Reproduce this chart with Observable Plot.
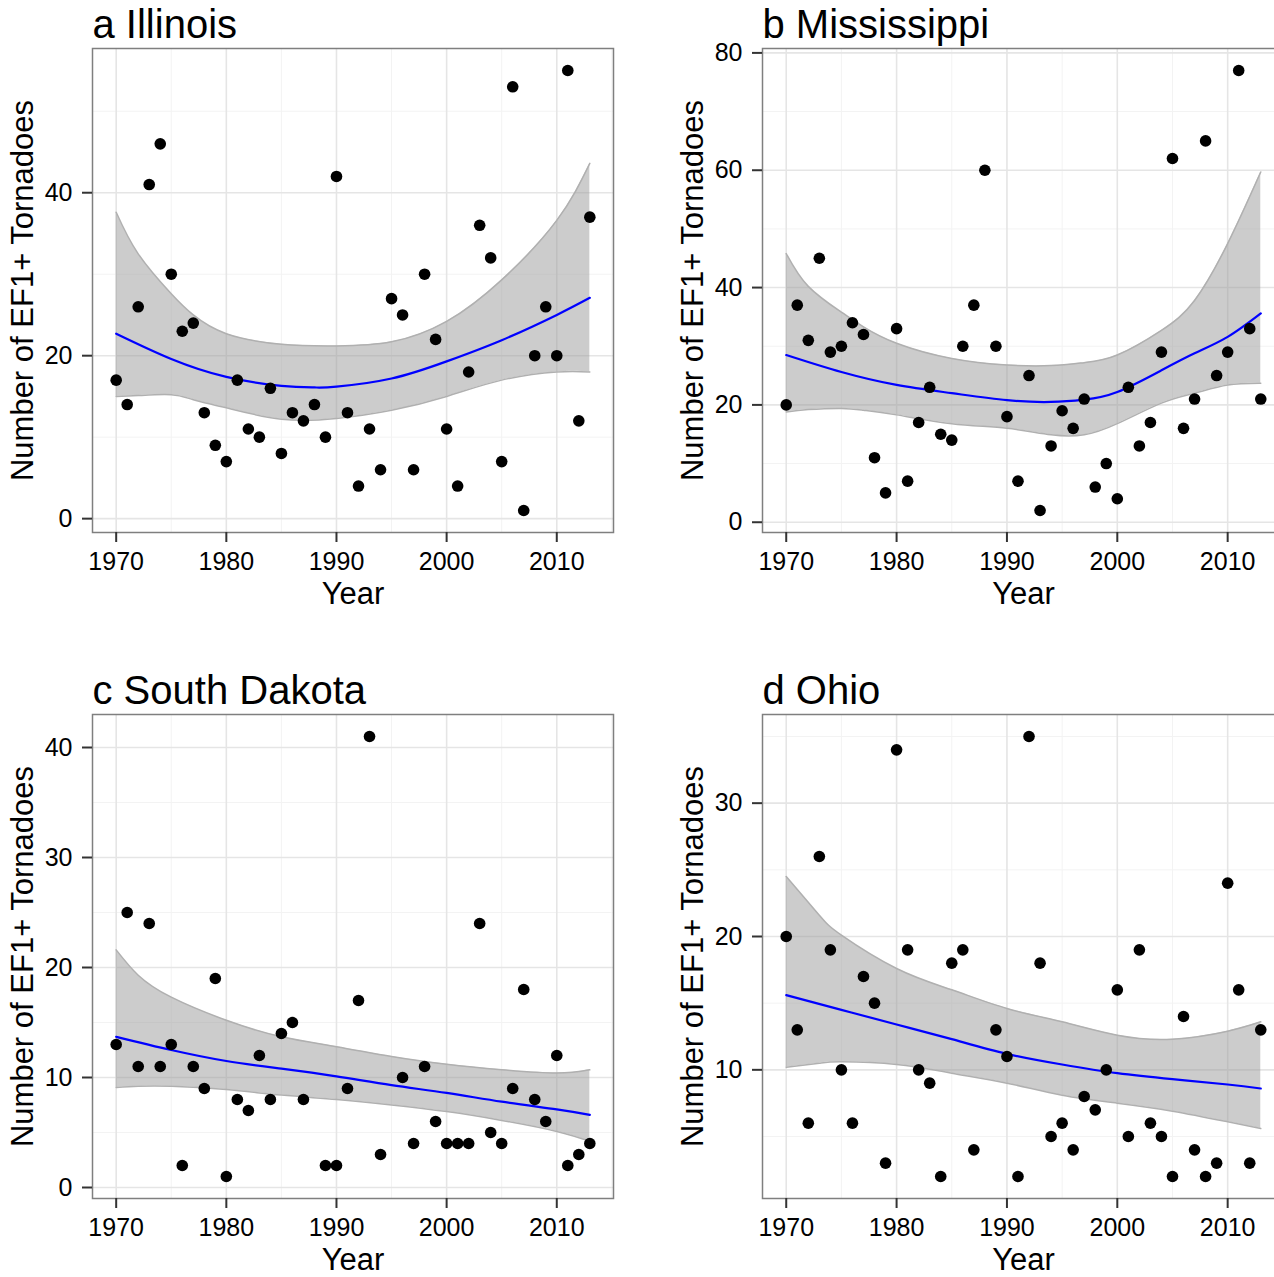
<!DOCTYPE html>
<html>
<head>
<meta charset="utf-8">
<script src="https://cdn.jsdelivr.net/npm/d3@7"></script>
<script src="https://cdn.jsdelivr.net/npm/@observablehq/plot@0.6"></script>
<style>
  html, body { margin: 0; padding: 0; background: #fff; overflow: hidden; }
  #root { position: relative; width: 1274px; height: 1277px; overflow: hidden; background: #fff;
          font-family: "Liberation Sans", Arial, Helvetica, sans-serif; }
  .panel { position: absolute; }
  .panel svg { max-width: none !important; display: block; }
</style>
</head>
<body>
<div id="root"></div>
<script>
// ---------- data ----------
const years = [1970,1971,1972,1973,1974,1975,1976,1977,1978,1979,1980,1981,1982,1983,1984,1985,1986,1987,1988,1989,
               1990,1991,1992,1993,1994,1995,1996,1997,1998,1999,2000,2001,2002,2003,2004,2005,2006,2007,2008,2009,
               2010,2011,2012,2013];

const illinois    = [17,14,26,41,46,30,23,24,13,9,7,17,11,10,16,8,13,12,14,10,
                     42,13,4,11,6,27,25,6,30,22,11,4,18,36,32,7,53,1,20,26,
                     20,55,12,37];
const mississippi = [20,37,31,45,29,30,34,32,11,5,33,7,17,23,15,14,30,37,60,30,
                     18,7,25,2,13,19,16,21,6,10,4,23,13,17,29,62,16,21,65,25,
                     29,77,33,21];
const southDakota = [13,25,11,24,11,13,2,11,9,19,1,8,7,12,8,14,15,8,null,2,
                     2,9,17,41,3,null,10,4,11,6,4,4,4,24,5,4,9,18,8,6,
                     12,2,3,4];
const ohio        = [20,13,6,26,19,10,6,17,15,3,34,19,10,9,2,18,19,4,null,13,
                     11,2,35,18,5,6,4,8,7,10,16,5,19,6,5,2,14,4,2,3,
                     24,16,3,13];

// smoothed fit and confidence band
const ilFitYears = [1970,1975,1980,1985,1988,1990,1995,2000,2005,2010,2013];
const ilFit      = [22.7,19.6,17.4,16.3,16.1,16.2,17.2,19.3,21.9,25.0,27.1];
const ilBandYears= [1970,1972,1975,1977,1980,1985,1990,1995,2000,2005,2010,2013];
const ilHi       = [37.6,32.5,27.6,25.0,22.7,21.4,21.2,21.7,24.2,29.3,36.6,43.6];
const ilLo       = [15.0,15.1,15.2,14.6,13.6,12.2,12.3,13.3,15.0,17.0,18.0,18.0];

const msFitYears = [1970,1975,1980,1985,1990,1994,1997,2000,2004,2007,2010,2013];
const msFit      = [28.5,25.6,23.4,22.0,20.8,20.5,20.9,22.2,25.9,28.8,31.6,35.6];
const msBandYears= [1970,1972,1975,1977,1980,1985,1990,1994,1997,2000,2004,2007,2010,2013];
const msHi       = [45.8,40.2,35.8,33.3,30.5,27.9,26.8,26.7,27.2,28.5,32.7,37.8,47.5,59.7];
const msLo       = [18.8,19.2,19.4,19.1,18.3,16.8,16.0,14.9,14.9,16.8,20.3,22.0,23.4,23.7];

const sdFitYears = [1970,1975,1980,1985,1990,1995,2000,2005,2010,2013];
const sdFit      = [13.7,12.5,11.5,10.8,10.1,9.3,8.6,7.8,7.1,6.6];
const sdBandYears= [1970,1972,1975,1980,1985,1990,1995,2000,2005,2010,2013];
const sdHi       = [21.6,19.3,17.3,15.2,13.7,12.8,11.9,11.2,10.7,10.4,10.7];
const sdLo       = [9.1,9.2,9.2,8.9,8.4,8.0,7.5,6.9,6.1,5.1,4.2];

const ohFitYears = [1970,1975,1980,1985,1990,1995,2000,2005,2010,2013];
const ohFit      = [15.6,14.5,13.4,12.3,11.2,10.4,9.75,9.3,8.9,8.6];
const ohBandYears= [1970,1973,1975,1980,1985,1990,1995,2000,2005,2010,2013];
const ohHi       = [24.5,21.6,20.1,17.6,16.0,14.6,13.6,12.6,12.3,12.9,13.6];
const ohLo       = [10.2,10.5,10.6,10.4,9.75,9.0,8.1,7.5,6.9,6.1,5.6];

const xTicks = [1970,1980,1990,2000,2010];
const xMinor = [1975,1985,1995,2005,2015];

const panels = [
  {title: "a Illinois", values: illinois, fitYears: ilFitYears, fit: ilFit, bandYears: ilBandYears, hi: ilHi, lo: ilLo,
   yTicks: [0,20,40], yMinor: [10,30,50], yDomain: [-1.7, 57.7], left: 0, top: 0, w: 521},
  {title: "b Mississippi", values: mississippi, fitYears: msFitYears, fit: msFit, bandYears: msBandYears, hi: msHi, lo: msLo,
   yTicks: [0,20,40,60,80], yMinor: [10,30,50,70], yDomain: [-1.75, 80.75], left: 670, top: 0, w: 522},
  {title: "c South Dakota", values: southDakota, fitYears: sdFitYears, fit: sdFit, bandYears: sdBandYears, hi: sdHi, lo: sdLo,
   yTicks: [0,10,20,30,40], yMinor: [5,15,25,35], yDomain: [-1.0, 43.0], left: 0, top: 666, w: 521},
  {title: "d Ohio", values: ohio, fitYears: ohFitYears, fit: ohFit, bandYears: ohBandYears, hi: ohHi, lo: ohLo,
   yTicks: [10,20,30], yMinor: [5,15,25,35], yDomain: [0.35, 36.65], left: 670, top: 666, w: 522}
];

// ---------- drawing ----------
const root = document.getElementById("root");
const FONT = "Liberation Sans, Arial, Helvetica, sans-serif";

for (const p of panels) {
  const pts = years.map((y, i) => ({year: y, n: p.values[i]})).filter(d => d.n != null);
  const fit = p.fitYears.map((y, i) => ({year: y, v: p.fit[i]}));
  const band = p.bandYears.map((y, i) => ({year: y, hi: p.hi[i], lo: p.lo[i]}));
  const mL = 92, mT = 48, mR = 12, mB = 84, h = 484;
  const W = mL + p.w + mR, H = mT + h + mB;

  const chart = Plot.plot({
    width: W,
    height: H,
    marginLeft: mL, marginTop: mT, marginRight: mR, marginBottom: mB,
    style: {fontFamily: FONT, background: "white", overflow: "visible", color: "black", maxWidth: "none"},
    x: {domain: [1967.85, 2015.15]},
    y: {domain: p.yDomain},
    marks: [
      Plot.ruleX(xMinor, {x: d => d, stroke: "#f3f3f3", strokeWidth: 1}),
      Plot.ruleY(p.yMinor, {y: d => d, stroke: "#f3f3f3", strokeWidth: 1}),
      Plot.ruleX(xTicks, {x: d => d, stroke: "#e5e5e5", strokeWidth: 1.6}),
      Plot.ruleY(p.yTicks, {y: d => d, stroke: "#e5e5e5", strokeWidth: 1.6}),
      Plot.areaY(band, {x: "year", y1: "lo", y2: "hi", fill: "#999999", fillOpacity: 0.5, curve: "natural"}),
      Plot.lineY(band, {x: "year", y: "hi", stroke: "#b0b0b0", strokeWidth: 1.5, curve: "natural"}),
      Plot.lineY(band, {x: "year", y: "lo", stroke: "#b0b0b0", strokeWidth: 1.5, curve: "natural"}),
      Plot.lineY(fit, {x: "year", y: "v", stroke: "#0000ff", strokeWidth: 2.2, curve: "natural"}),
      Plot.dot(pts, {x: "year", y: "n", r: 5.8, fill: "black", stroke: "none"}),
      Plot.frame({stroke: "#7f7f7f", strokeWidth: 1.5}),
      Plot.axisX(xTicks, {tickSize: 10, tickPadding: 10, fontSize: 25, fill: "black", stroke: "#333",
                          strokeWidth: 2, tickFormat: d => String(d), label: null}),
      Plot.axisY(p.yTicks, {tickSize: 10, tickPadding: 10, fontSize: 25, fill: "black", stroke: "#333",
                          strokeWidth: 2, tickFormat: d => String(d), label: null}),
      Plot.text([p.title], {text: d => d, frameAnchor: "top-left", textAnchor: "start", lineAnchor: "middle",
                            dy: -23, fontSize: 40, fill: "black"}),
      Plot.text(["Year"], {text: d => d, frameAnchor: "bottom", textAnchor: "middle", lineAnchor: "middle",
                           dy: 61.5, fontSize: 31, fill: "black"}),
      Plot.text(["Number of EF1+ Tornadoes"], {text: d => d, frameAnchor: "left", textAnchor: "middle",
                            lineAnchor: "middle", rotate: -90, dx: -69, fontSize: 31, fill: "black"})
    ]
  });
  chart.style.maxWidth = "none";
  chart.setAttribute("width", W);
  chart.setAttribute("height", H);
  const wrap = document.createElement("div");
  wrap.className = "panel";
  wrap.style.left = p.left + "px";
  wrap.style.top = p.top + "px";
  wrap.style.width = W + "px";
  wrap.style.height = H + "px";
  wrap.appendChild(chart);
  root.appendChild(wrap);
}
</script>
</body>
</html>
